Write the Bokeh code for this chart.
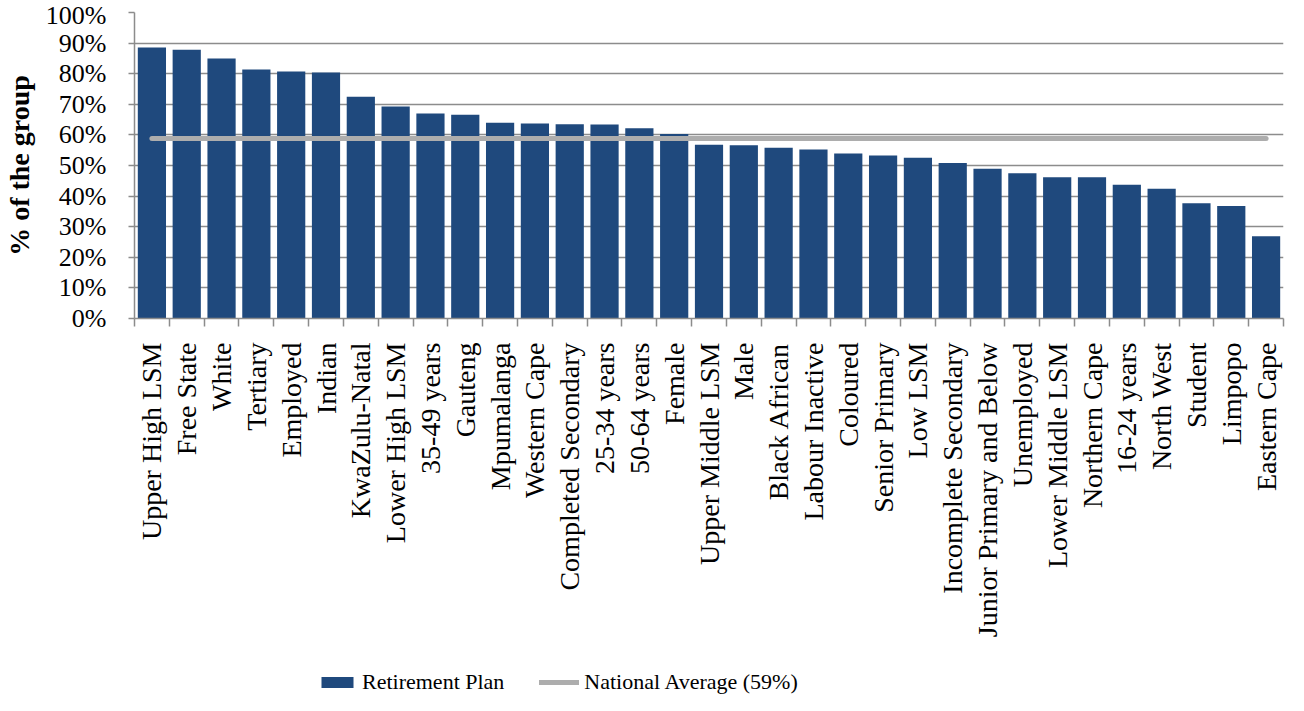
import math
from bokeh.plotting import figure
from bokeh.layouts import column
from bokeh.models import (Range1d, LinearAxis, FixedTicker, CustomJSTickFormatter,
                          PrintfTickFormatter, Legend, LegendItem, ColumnDataSource, Grid)
from bokeh.embed import file_html
from bokeh.resources import INLINE

categories = [
    "Upper High LSM", "Free State", "White", "Tertiary", "Employed", "Indian",
    "KwaZulu-Natal", "Lower High LSM", "35-49 years", "Gauteng", "Mpumalanga",
    "Western Cape", "Completed Secondary", "25-34 years", "50-64 years", "Female",
    "Upper Middle LSM", "Male", "Black African", "Labour Inactive", "Coloured",
    "Senior Primary", "Low LSM", "Incomplete Secondary", "Junior Primary and Below",
    "Unemployed", "Lower Middle LSM", "Northern Cape", "16-24 years", "North West",
    "Student", "Limpopo", "Eastern Cape",
]
retirement_plan = [
    88.6, 87.8, 85.0, 81.4, 80.7, 80.4, 72.5, 69.3, 67.0, 66.6, 64.0,
    63.7, 63.5, 63.4, 62.2, 60.3, 56.8, 56.6, 55.8, 55.2, 53.9,
    53.3, 52.5, 50.8, 48.9, 47.5, 46.2, 46.2, 43.7, 42.4,
    37.7, 36.8, 26.9,
]
national_average = 58.8
y_ticks = [0, 10, 20, 30, 40, 50, 60, 70, 80, 90, 100]
bar_label = "Retirement Plan"
line_label = "National Average (59%)"

FONT = "Liberation Serif"
GRID = "#8C8C8C"
BAR = "#1F497D"
AVG = "#ADADAD"

n = len(categories)
positions = [i + 0.5 for i in range(n)]
boundaries = list(range(n + 1))
src = ColumnDataSource(dict(x=positions, top=retirement_plan, cat=categories))
avg_src = ColumnDataSource(dict(x=[positions[0], positions[-1]],
                                y=[national_average, national_average]))

p = figure(width=1286, height=666, output_backend="svg", toolbar_location=None,
           x_range=Range1d(0, n), y_range=Range1d(0, 100),
           x_axis_type=None, y_axis_type=None,
           min_border_left=131, min_border_right=3, min_border_top=12,
           min_border_bottom=348)
p.outline_line_color = None

grid = Grid(dimension=1, ticker=FixedTicker(ticks=y_ticks),
            grid_line_color=GRID, grid_line_width=1.5)
p.add_layout(grid)

bars = p.vbar(x="x", top="top", width=0.81, bottom=0, source=src,
              fill_color=BAR, line_color=None)
avg = p.line(x="x", y="y", source=avg_src, line_color=AVG,
             line_width=5, line_cap="round")

yaxis = LinearAxis(ticker=FixedTicker(ticks=y_ticks),
                   formatter=PrintfTickFormatter(format="%d%%"),
                   axis_label="% of the group")
yaxis.axis_line_color = GRID
yaxis.axis_line_width = 1.5
yaxis.major_tick_line_color = GRID
yaxis.major_tick_line_width = 1.5
yaxis.major_tick_out = 6
yaxis.major_tick_in = 0
yaxis.minor_tick_line_color = None
yaxis.major_label_standoff = 22
yaxis.major_label_text_font = FONT
yaxis.major_label_text_font_size = "26px"
yaxis.major_label_text_color = "black"
yaxis.axis_label_text_font = FONT
yaxis.axis_label_text_font_size = "28px"
yaxis.axis_label_text_font_style = "bold"
yaxis.axis_label_text_color = "black"
yaxis.axis_label_standoff = 8
p.add_layout(yaxis, "left")

xaxis = LinearAxis(ticker=FixedTicker(ticks=positions, minor_ticks=boundaries),
                   formatter=CustomJSTickFormatter(args=dict(labels=categories),
                                                   code="return labels[Math.floor(tick)];"))
xaxis.axis_line_color = GRID
xaxis.axis_line_width = 1.5
xaxis.major_tick_line_color = None
xaxis.major_tick_out = 0
xaxis.major_tick_in = 0
xaxis.minor_tick_line_color = GRID
xaxis.minor_tick_line_width = 1.5
xaxis.minor_tick_out = 8
xaxis.minor_tick_in = 0
xaxis.major_label_orientation = math.pi / 2
xaxis.major_label_standoff = 16
xaxis.major_label_text_font = FONT
xaxis.major_label_text_font_size = "28px"
xaxis.major_label_text_color = "black"
p.add_layout(xaxis, "below")

# legend strip below the chart (hidden copies of the series supply the swatches)
lf = figure(width=1286, height=29, output_backend="svg", toolbar_location=None,
            x_range=Range1d(0, n), y_range=Range1d(0, 100),
            x_axis_type=None, y_axis_type=None, min_border=0)
lf.outline_line_color = None
lf.xgrid.visible = False
lf.ygrid.visible = False
leg_bar = lf.vbar(x="x", top="top", width=0.81, bottom=0, source=src,
                  fill_color=BAR, line_color=None, visible=False)
leg_line = lf.line(x="x", y="y", source=avg_src, line_color=AVG,
                   line_width=5, line_cap="round", visible=False)
legend = Legend(items=[LegendItem(label=bar_label, renderers=[leg_bar]),
                       LegendItem(label=line_label, renderers=[leg_line])],
                orientation="horizontal", location=(183, 0),
                glyph_width=40, glyph_height=14, label_standoff=5, spacing=35,
                padding=0, margin=0, border_line_color=None,
                background_fill_alpha=0, inactive_fill_alpha=0,
                label_text_font=FONT, label_text_font_size="22px",
                label_text_color="black")
lf.add_layout(legend)

layout = column(p, lf, spacing=0)
open("out.html", "w").write(file_html(layout, INLINE))
